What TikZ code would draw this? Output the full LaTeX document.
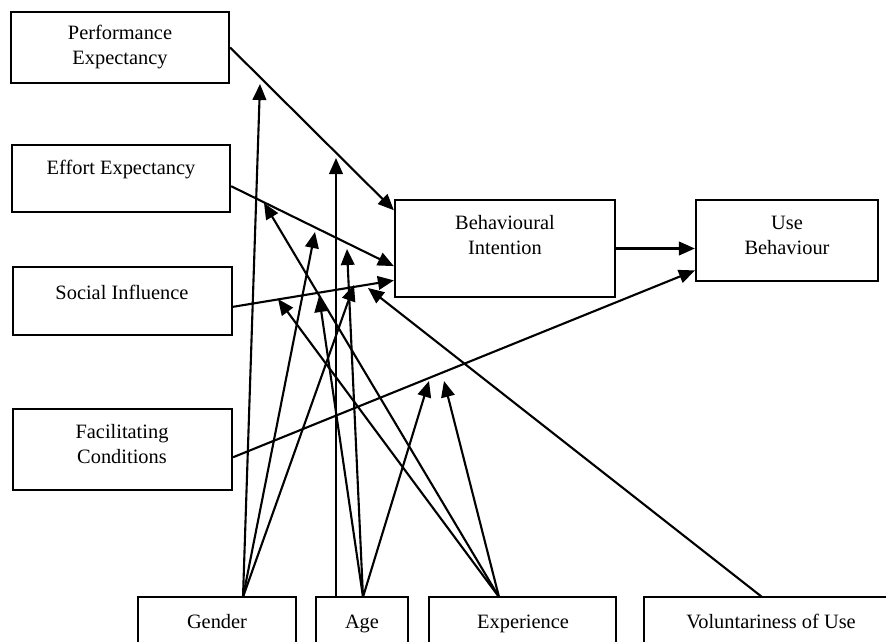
\documentclass[tikz,border=0pt]{standalone}
\usepackage{fontspec}
\setmainfont{Liberation Serif}
\usetikzlibrary{arrows.meta,fit}

\tikzset{
  box/.style={draw, line width=1.6pt, inner sep=0pt},
  lbl/.style={align=center, inner sep=0pt, font=\fontsize{14.5}{17.7}\selectfont},
  link/.style={line width=1.5pt, -{Triangle[length=0.4cm,width=0.34cm]}},
}

\begin{document}
\begin{tikzpicture}[x=0.025cm, y=-0.025cm]
\useasboundingbox (0,0) rectangle (886,642);
\clip (0,0) rectangle (886,642);

% constructs
\node[box, fit={(11,12) (229,83)}] (pe) {};
\node[lbl] (pet) at (120,47) {Performance\\Expectancy};
\node[box, fit={(12,145) (230,212)}] (ee) {};
\node[lbl] (eet) at (121,170) {Effort Expectancy};
\node[box, fit={(13,267) (232,335)}] (si) {};
\node[lbl] (sit) at (122,292) {Social Influence};
\node[box, fit={(13,409) (232,490)}] (fc) {};
\node[lbl] (fct) at (122,444) {Facilitating\\Conditions};
\node[box, fit={(395,200) (615,297)}] (bi) {};
\node[lbl] (bit) at (505,235) {Behavioural\\Intention};
\node[box, fit={(696,200) (878,281)}] (ub) {};
\node[lbl] (ubt) at (787,235) {Use\\Behaviour};

% moderators
\node[box, fit={(138,597) (296,680)}] (gen) {};
\node[lbl, anchor=base] (gent) at (217,628) {Gender};
\node[box, fit={(316,597) (408,680)}] (age) {};
\node[lbl, anchor=base] (aget) at (362,628) {Age};
\node[box, fit={(429,597) (616,680)}] (exp) {};
\node[lbl, anchor=base] (expt) at (523,628) {Experience};
\node[box, fit={(644,597) (898,680)}] (vol) {};
\node[lbl, anchor=base] (volt) at (771,628) {Voluntariness of Use};

% main paths
\draw[link] (pe.east) -- (bi.161);
\draw[link] (ee.-4) -- (bi.189);
\draw[link] (si.-3) -- (bi.196);
\draw[link] (fc.-4) -- (ub.198);
\draw[link] (bi.east) -- (bi.east -| ub.west);

% start and end points of the moderating arrows
\foreach \n/\a/\b in {gsrc/243/597, avert/336/597, asrc/363/597, esrc/499/597, vsrc/762/597,
  gpe/260/84, gee/315/232, gsi/354/285,
  atop/336/158, aee/347/249, asi/319/296, afc/429/381,
  eee/264/203, esi/278/299, efc/444/381,
  vsi/368/288}
  \coordinate (\n) at (\a,\b);

\foreach \s/\t in {gsrc/gpe, gsrc/gee, gsrc/gsi,
  avert/atop, asrc/aee, asrc/asi, asrc/afc,
  esrc/eee, esrc/esi, esrc/efc,
  vsrc/vsi}
  \draw[link] (\s) -- (\t);

\end{tikzpicture}
\end{document}
